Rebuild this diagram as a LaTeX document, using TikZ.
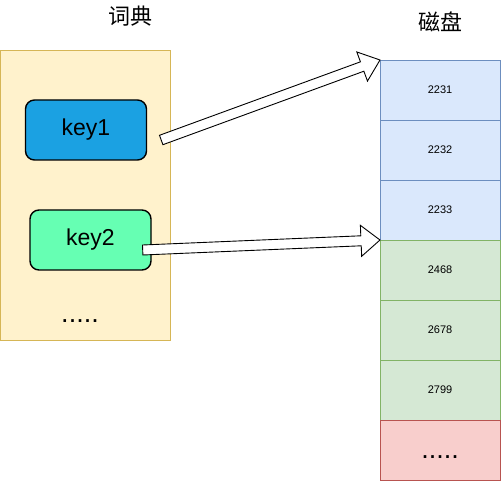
\documentclass[tikz,border=0pt]{standalone}
\usepackage{fontspec}
\setmainfont{Liberation Sans}
\newfontfamily\cjkfont{Noto Sans CJK SC}
\usetikzlibrary{positioning,calc}

\definecolor{dictfill}{HTML}{FFF2CC}
\definecolor{dictline}{HTML}{D6B656}
\definecolor{keyblue}{HTML}{1BA1E2}
\definecolor{keygreen}{HTML}{66FFB3}
\definecolor{blockfill}{HTML}{DAE8FC}
\definecolor{blockline}{HTML}{6C8EBF}
\definecolor{greenfill}{HTML}{D5E8D4}
\definecolor{greenline}{HTML}{82B366}
\definecolor{redfill}{HTML}{F8CECC}
\definecolor{redline}{HTML}{B85450}

% block arrow from tail #1 to tip #2
\newcommand{\blockarrow}[2]{%
  \coordinate (h) at ($(#2)!19pt!(#1)$);
  \draw[arrowline] ($(#1)!5pt!90:(#2)$) -- ($(h)!5pt!90:(#2)$)
    -- ($(h)!15.5pt!90:(#2)$) -- (#2) -- ($(h)!15.5pt!-90:(#2)$)
    -- ($(h)!5pt!-90:(#2)$) -- ($(#1)!5pt!-90:(#2)$) -- cycle;}

\begin{document}
\begin{tikzpicture}[x=1pt,y=-1pt,
  title/.style={font=\cjkfont\fontsize{22}{26}\selectfont},
  keybox/.style={draw=black,line width=1.4pt,rounded corners=9pt,minimum width=121pt,
    minimum height=60pt,font=\fontsize{23}{27}\selectfont},
  cell/.style={draw,line width=0.8pt,minimum width=120pt,minimum height=60pt,outer sep=0pt,
    font=\fontsize{11}{13}\selectfont},
  bluecell/.style={cell,fill=blockfill,draw=blockline},
  greencell/.style={cell,fill=greenfill,draw=greenline},
  redcell/.style={cell,fill=redfill,draw=redline},
  dots/.style={font=\fontsize{27}{30}\selectfont},
  arrowline/.style={draw=black,fill=white,line width=0.9pt,line join=miter}]
\useasboundingbox (0,0) rectangle (501,481);

% dictionary
\node[title] (dicttitle) at (130,16) {词典};
\node[draw=dictline,fill=dictfill,line width=0.8pt,minimum width=170pt,minimum height=290pt,
  outer sep=0pt] (dict) at (85.5,195) {};
\node[keybox,fill=keyblue] (key1) at (86,130) {key1};
\node[keybox,fill=keygreen] (key2) at (90.5,240) {key2};
\node[dots] (dictdots) at (80,321) {.....};

% disk
\node[title] (disktitle) at (440,22) {磁盘};
\node[bluecell] (c1) at (440,90) {2231};
\node[bluecell,below=0pt of c1] (c2) {2232};
\node[bluecell,below=0pt of c2] (c3) {2233};
\node[greencell,below=0pt of c3] (c4) {2468};
\node[greencell,below=0pt of c4] (c5) {2678};
\node[greencell,below=0pt of c5] (c6) {2799};
\node[redcell,below=0pt of c6] (c7) {};
\node[dots] (diskdots) at (440,457) {.....};

% pointers
\coordinate (t1) at ([shift={(14,10)}]key1.east);
\coordinate (t2) at ([shift={(-9,10)}]key2.east);
\blockarrow{t1}{c1.north west}
\blockarrow{t2}{c4.north west}
\end{tikzpicture}
\end{document}
